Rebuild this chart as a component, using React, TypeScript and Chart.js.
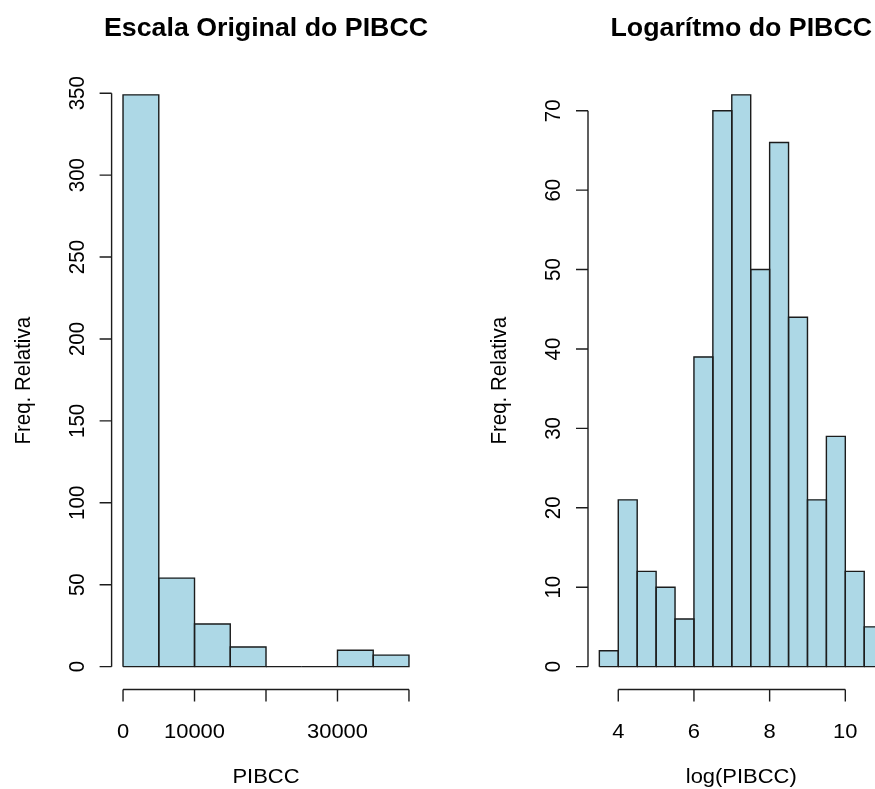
import { useEffect, useRef } from "react";
import { Chart, registerables } from "chart.js";

Chart.register(...registerables);

// Original scale: PIBCC binned in steps of 5000
const pibccEdges = [0, 5000, 10000, 15000, 20000, 25000, 30000, 35000, 40000];
const pibccCounts = [349, 54, 26, 12, 0, 0, 10, 7];
const pibccXTicks = [0, 10000, 20000, 30000, 40000];
const pibccXLabels = ["0", "10000", "", "30000", ""];
const pibccYTicks = [0, 50, 100, 150, 200, 250, 300, 350];

// Log scale: log(PIBCC) binned in steps of 0.5
const logEdges = [3.5, 4, 4.5, 5, 5.5, 6, 6.5, 7, 7.5, 8, 8.5, 9, 9.5, 10, 10.5, 11];
const logCounts = [2, 21, 12, 10, 6, 39, 70, 72, 50, 66, 44, 21, 29, 12, 5];
const logXTicks = [4, 6, 8, 10];
const logXLabels = ["4", "6", "8", "10"];
const logYTicks = [0, 10, 20, 30, 40, 50, 60, 70];

const FONT = '"Liberation Sans", Arial, Helvetica, sans-serif';
const STRETCH = 1.07;
const INK = "#1c1c1c";

type Panel = {
  edges: number[];
  counts: number[];
  xTicks: number[];
  xLabels: string[];
  yTicks: number[];
  title: string;
  xTitle: string;
  yTitle: string;
  padding: { left: number; right: number; top: number; bottom: number };
};

function drawText(
  ctx: CanvasRenderingContext2D,
  s: string,
  x: number,
  y: number,
  size: number,
  bold: boolean,
  rotated: boolean
) {
  ctx.save();
  ctx.translate(x, y);
  if (rotated) {
    ctx.rotate(-Math.PI / 2);
    ctx.scale(1, STRETCH);
  } else {
    ctx.scale(STRETCH, 1);
  }
  ctx.font = `${bold ? "bold " : ""}${size}px ${FONT}`;
  ctx.textAlign = "center";
  ctx.textBaseline = "alphabetic";
  ctx.fillStyle = "#000";
  ctx.fillText(s, 0, 0);
  ctx.restore();
}

function histStyle(panel: Panel) {
  return {
    id: "histStyle",
    afterDatasetsDraw(chart: Chart) {
      const ctx = chart.ctx;
      // bar outlines (zero-height bins show as a line on the baseline)
      const meta = chart.getDatasetMeta(0);
      ctx.save();
      ctx.strokeStyle = INK;
      ctx.lineWidth = 1.4;
      meta.data.forEach((el: any) => {
        const p = el.getProps(["x", "y", "base", "width"], true);
        const top = Math.min(p.y, p.base);
        const bottom = Math.max(p.y, p.base);
        const l = p.x - p.width / 2;
        const r = p.x + p.width / 2;
        ctx.beginPath();
        ctx.moveTo(l, bottom);
        ctx.lineTo(l, top);
        ctx.lineTo(r, top);
        ctx.lineTo(r, bottom);
        ctx.lineTo(l, bottom);
        ctx.stroke();
      });
      ctx.restore();
    },
    afterDraw(chart: Chart) {
      const ctx = chart.ctx;
      const xs = chart.scales.x;
      const ys = chart.scales.y;
      const area = chart.chartArea;
      const tick = 12;

      ctx.save();
      ctx.strokeStyle = INK;
      ctx.lineWidth = 1.4;

      // y axis
      const ax = area.left;
      const y0 = ys.getPixelForValue(panel.yTicks[0]);
      const y1 = ys.getPixelForValue(panel.yTicks[panel.yTicks.length - 1]);
      ctx.beginPath();
      ctx.moveTo(ax, y0);
      ctx.lineTo(ax, y1);
      panel.yTicks.forEach((v) => {
        const py = ys.getPixelForValue(v);
        ctx.moveTo(ax, py);
        ctx.lineTo(ax - tick, py);
      });
      ctx.stroke();
      panel.yTicks.forEach((v) => {
        drawText(ctx, String(v), ax - 28, ys.getPixelForValue(v), 20.5, false, true);
      });

      // x axis
      const ay = area.bottom;
      const x0 = xs.getPixelForValue(panel.xTicks[0]);
      const x1 = xs.getPixelForValue(panel.xTicks[panel.xTicks.length - 1]);
      ctx.beginPath();
      ctx.moveTo(x0, ay);
      ctx.lineTo(x1, ay);
      panel.xTicks.forEach((v) => {
        const px = xs.getPixelForValue(v);
        ctx.moveTo(px, ay);
        ctx.lineTo(px, ay + tick);
      });
      ctx.stroke();
      panel.xTicks.forEach((v, i) => {
        const lab = panel.xLabels[i];
        if (lab) drawText(ctx, lab, xs.getPixelForValue(v), ay + 48, 20.5, false, false);
      });
      ctx.restore();

      // titles
      const cx = (area.left + area.right) / 2;
      const cy = (area.top + area.bottom) / 2;
      drawText(ctx, panel.title, cx, 36, 25, true, false);
      drawText(ctx, panel.xTitle, cx, ay + 93.5, 20.5, false, false);
      drawText(ctx, panel.yTitle, ax - 82, cy, 20.5, false, true);
    },
  };
}

function makeChart(canvas: HTMLCanvasElement, panel: Panel) {
  const { edges, counts } = panel;
  const lo = edges[0];
  const hi = edges[edges.length - 1];
  const span = hi - lo;
  const top = Math.max(...counts);
  const points = counts.map((c, i) => ({ x: (edges[i] + edges[i + 1]) / 2, y: c }));

  return new Chart(canvas, {
    type: "bar",
    data: {
      datasets: [
        {
          data: points as any,
          backgroundColor: "#ADD8E6",
          borderWidth: 0,
          barPercentage: 1,
          categoryPercentage: 1,
        },
      ],
    },
    options: {
      responsive: false,
      animation: false,
      events: [],
      layout: { padding: panel.padding },
      plugins: {
        legend: { display: false },
        title: { display: false },
        tooltip: { enabled: false },
      },
      scales: {
        x: {
          type: "linear",
          offset: false,
          min: lo - 0.04 * span,
          max: hi + 0.04 * span,
          display: false,
        },
        y: { type: "linear", min: -0.04 * top, max: 1.04 * top, display: false },
      },
    },
    plugins: [histStyle(panel)],
  });
}

const leftPanel: Panel = {
  edges: pibccEdges,
  counts: pibccCounts,
  xTicks: pibccXTicks,
  xLabels: pibccXLabels,
  yTicks: pibccYTicks,
  title: "Escala Original do PIBCC",
  xTitle: "PIBCC",
  yTitle: "Freq. Relativa",
  padding: { left: 111.6, right: 454.6, top: 72, bottom: 99.5 },
};

const rightPanel: Panel = {
  edges: logEdges,
  counts: logCounts,
  xTicks: logXTicks,
  xLabels: logXLabels,
  yTicks: logYTicks,
  title: "Logarítmo do PIBCC",
  xTitle: "log(PIBCC)",
  yTitle: "Freq. Relativa",
  padding: { left: 588, right: 65.5, top: 72, bottom: 99.5 },
};

export default function App() {
  const leftRef = useRef<HTMLCanvasElement>(null);
  const rightRef = useRef<HTMLCanvasElement>(null);

  useEffect(() => {
    const a = makeChart(leftRef.current!, leftPanel);
    const b = makeChart(rightRef.current!, rightPanel);
    return () => {
      a.destroy();
      b.destroy();
    };
  }, []);

  return (
    <div
      style={{
        position: "fixed",
        left: 0,
        top: 0,
        width: 875,
        height: 789,
        overflow: "hidden",
        background: "#fff",
      }}
    >
      <canvas ref={leftRef} width={875} height={789} style={{ position: "absolute", left: 0, top: 0 }} />
      <canvas ref={rightRef} width={960} height={789} style={{ position: "absolute", left: 0, top: 0 }} />
    </div>
  );
}
